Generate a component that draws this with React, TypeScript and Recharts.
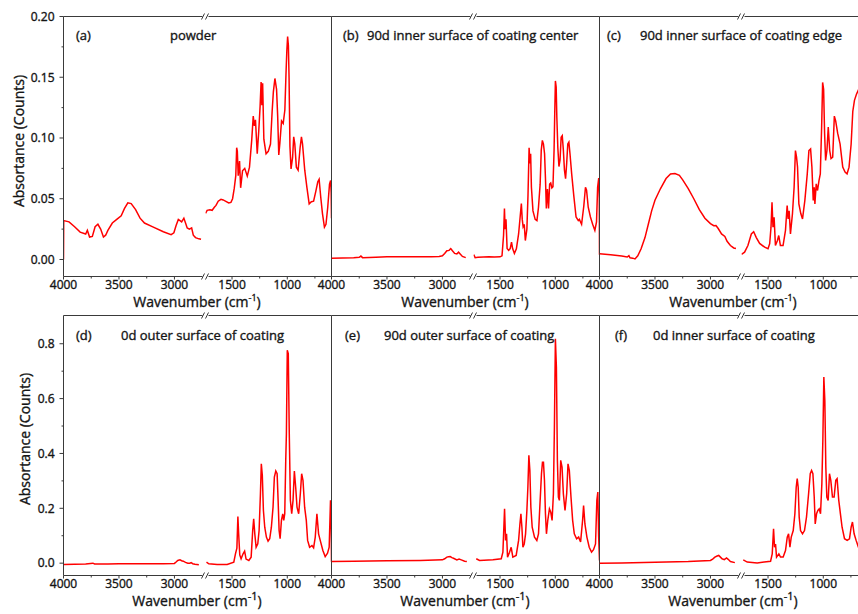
import React from "react";
import { LineChart, Line, XAxis, YAxis, ReferenceLine } from "recharts";

// ---- spectra: [wavenumber (cm-1), absorbance] ----
// "hi" = 4000..2720 side of the axis break, "lo" = 1740..600 side

const powderHi: [number, number][] = [
  [4000, 0], [3998, 0.032], [3950, 0.031], [3900, 0.027], [3850, 0.0225], [3800, 0.021],
  [3785, 0.024], [3765, 0.0185], [3740, 0.019], [3715, 0.027], [3690, 0.029], [3665, 0.025],
  [3640, 0.0185], [3620, 0.02], [3600, 0.024], [3560, 0.03], [3520, 0.033], [3480, 0.036],
  [3450, 0.042], [3420, 0.0466], [3390, 0.046], [3350, 0.041], [3310, 0.034], [3270, 0.03],
  [3200, 0.027], [3100, 0.0228], [3030, 0.0205], [3005, 0.022], [2985, 0.028], [2965, 0.033],
  [2950, 0.032], [2935, 0.031], [2915, 0.034], [2900, 0.03], [2885, 0.026], [2865, 0.025],
  [2845, 0.026], [2830, 0.02], [2810, 0.018], [2780, 0.017], [2760, 0.0167],
];
const powderLo: [number, number][] = [
  [1740, 0.038], [1725, 0.0405], [1700, 0.041], [1680, 0.0405], [1660, 0.043], [1645, 0.0445],
  [1625, 0.048], [1600, 0.0495], [1580, 0.049], [1560, 0.048], [1530, 0.0465], [1510, 0.047],
  [1495, 0.05], [1480, 0.0585], [1466, 0.069], [1458, 0.092], [1452, 0.089], [1444, 0.069],
  [1432, 0.081], [1422, 0.059], [1405, 0.073], [1385, 0.075], [1362, 0.0686], [1342, 0.076],
  [1322, 0.098], [1308, 0.118], [1298, 0.11], [1288, 0.115], [1272, 0.087], [1258, 0.106],
  [1246, 0.126], [1237, 0.146], [1230, 0.127], [1223, 0.145], [1212, 0.099], [1192, 0.087],
  [1172, 0.089], [1152, 0.095], [1137, 0.122], [1126, 0.138], [1112, 0.149], [1097, 0.14],
  [1087, 0.118], [1077, 0.086], [1067, 0.096], [1052, 0.114], [1037, 0.112], [1022, 0.123],
  [1012, 0.152], [1004, 0.172], [997, 0.1835], [990, 0.176], [984, 0.15], [976, 0.093],
  [966, 0.0746], [952, 0.084], [942, 0.101], [932, 0.095], [918, 0.076], [902, 0.0735],
  [884, 0.092], [872, 0.101], [862, 0.095], [842, 0.0735], [822, 0.059], [802, 0.0458],
  [782, 0.0475], [762, 0.048], [742, 0.056], [724, 0.064], [712, 0.066], [697, 0.051],
  [682, 0.038], [664, 0.0266], [650, 0.029], [634, 0.043], [618, 0.062], [608, 0.065],
  [603, 0.055], [600, 0.034],
];

const centerHi: [number, number][] = [
  [4000, 0.001], [3900, 0.0012], [3800, 0.0015], [3750, 0.0018], [3735, 0.0028], [3720, 0.0015],
  [3600, 0.0018], [3500, 0.0022], [3400, 0.0022], [3300, 0.0022], [3200, 0.0022], [3100, 0.0022],
  [3030, 0.0025], [3000, 0.003], [2980, 0.005], [2960, 0.0072], [2940, 0.0075], [2925, 0.009],
  [2910, 0.0072], [2890, 0.005], [2870, 0.0045], [2855, 0.006], [2840, 0.0045], [2820, 0.0025],
  [2790, 0.0015],
];
const centerLo: [number, number][] = [
  [1738, 0.004], [1725, 0.0015], [1700, 0.0018], [1650, 0.002], [1600, 0.0022], [1550, 0.002],
  [1500, 0.0022], [1482, 0.003], [1468, 0.02], [1460, 0.042], [1454, 0.025], [1446, 0.033],
  [1436, 0.009], [1422, 0.0075], [1408, 0.009], [1396, 0.0143], [1386, 0.009], [1370, 0.005],
  [1352, 0.0088], [1332, 0.021], [1317, 0.036], [1307, 0.046], [1299, 0.033], [1291, 0.027],
  [1281, 0.029], [1271, 0.0156], [1257, 0.025], [1247, 0.0527], [1237, 0.092], [1229, 0.079],
  [1223, 0.087], [1216, 0.0595], [1202, 0.04], [1182, 0.033], [1166, 0.032], [1152, 0.043],
  [1137, 0.062], [1127, 0.09], [1117, 0.098], [1107, 0.095], [1097, 0.087], [1089, 0.067],
  [1081, 0.042], [1071, 0.058], [1061, 0.042], [1051, 0.062], [1041, 0.063], [1031, 0.059],
  [1021, 0.06], [1011, 0.09], [1005, 0.12], [999, 0.147], [992, 0.142], [986, 0.117],
  [977, 0.092], [967, 0.0765], [957, 0.082], [947, 0.1007], [937, 0.102], [927, 0.09],
  [917, 0.0735], [907, 0.0665], [897, 0.079], [887, 0.095], [877, 0.0966], [867, 0.087],
  [852, 0.0707], [832, 0.052], [812, 0.035], [792, 0.032], [782, 0.033], [762, 0.029],
  [742, 0.044], [727, 0.0595], [717, 0.057], [702, 0.043], [682, 0.035], [662, 0.029],
  [642, 0.024], [627, 0.031], [617, 0.0595], [607, 0.067], [602, 0.05], [600, 0.004],
];

const edgeHi: [number, number][] = [
  [4000, 0.0047], [3900, 0.0039], [3800, 0.0028], [3750, 0.002], [3735, 0.0032], [3725, 0.0014],
  [3700, 0.0011], [3680, 0.0005], [3655, 0.003], [3625, 0.0088], [3590, 0.018], [3560, 0.029],
  [3530, 0.04], [3500, 0.0488], [3450, 0.0584], [3400, 0.0666], [3360, 0.0703], [3320, 0.0707],
  [3280, 0.0693], [3250, 0.0655], [3200, 0.0583], [3150, 0.05], [3100, 0.041], [3050, 0.034],
  [3000, 0.0295], [2970, 0.0278], [2950, 0.028], [2930, 0.0255], [2900, 0.021], [2870, 0.019],
  [2850, 0.015], [2820, 0.0115], [2790, 0.0095], [2770, 0.009],
];
const edgeLo: [number, number][] = [
  [1740, 0.0042], [1712, 0.006], [1682, 0.0115], [1651, 0.021], [1630, 0.0228], [1606, 0.018],
  [1576, 0.0132], [1530, 0.0101], [1500, 0.0088], [1485, 0.013], [1473, 0.0266], [1464, 0.047],
  [1455, 0.0266], [1445, 0.0348], [1433, 0.0115], [1415, 0.0156], [1403, 0.0197], [1388, 0.0115],
  [1364, 0.0115], [1342, 0.024], [1327, 0.0444], [1318, 0.0334], [1309, 0.04], [1297, 0.0211],
  [1279, 0.0376], [1264, 0.0595], [1252, 0.0897], [1242, 0.0842], [1233, 0.076], [1221, 0.0458],
  [1203, 0.0376], [1188, 0.0334], [1167, 0.0485], [1145, 0.0705], [1130, 0.0897], [1115, 0.091],
  [1103, 0.076], [1091, 0.0485], [1082, 0.0595], [1076, 0.0458], [1064, 0.0622], [1052, 0.0568],
  [1039, 0.065], [1027, 0.0705], [1015, 0.109], [1006, 0.1457], [997, 0.14], [988, 0.1034],
  [979, 0.0815], [967, 0.0897], [955, 0.109], [942, 0.0897], [930, 0.083], [915, 0.0842],
  [900, 0.118], [888, 0.114], [870, 0.104], [848, 0.095], [824, 0.076], [803, 0.0719],
  [785, 0.0705], [767, 0.076], [748, 0.095], [733, 0.122], [718, 0.131], [700, 0.136],
  [680, 0.14], [660, 0.13], [640, 0.11], [620, 0.09], [600, 0.07],
];

const outer0Hi: [number, number][] = [
  [4000, -0.005], [3900, -0.004], [3800, -0.003], [3735, 0], [3720, -0.003], [3600, -0.003],
  [3500, -0.0024], [3300, -0.002], [3100, -0.002], [3000, -0.001], [2985, 0.004], [2970, 0.0097],
  [2950, 0.012], [2935, 0.009], [2920, 0.0073], [2900, 0.003], [2880, 0], [2860, 0],
  [2850, 0.002], [2835, -0.002], [2815, -0.004], [2780, -0.006],
];
const outer0Lo: [number, number][] = [
  [1731, 0.0036], [1710, -0.0024], [1635, -0.005], [1544, -0.005], [1484, 0.0036], [1469, 0.034],
  [1456, 0.055], [1447, 0.17], [1440, 0.107], [1430, 0.03], [1418, 0.016], [1400, 0.034],
  [1386, 0.044], [1373, 0.015], [1348, 0.0097], [1327, 0.022], [1313, 0.119], [1304, 0.162],
  [1294, 0.107], [1282, 0.058], [1267, 0.0705], [1255, 0.119], [1243, 0.253], [1235, 0.362],
  [1226, 0.32], [1216, 0.192], [1204, 0.131], [1189, 0.095], [1174, 0.08], [1159, 0.089],
  [1144, 0.131], [1129, 0.204], [1117, 0.314], [1104, 0.336], [1092, 0.326], [1083, 0.229],
  [1074, 0.119], [1065, 0.089], [1053, 0.156], [1041, 0.18], [1032, 0.156], [1023, 0.18],
  [1014, 0.375], [1008, 0.472], [1000, 0.776], [991, 0.764], [982, 0.472], [972, 0.229],
  [960, 0.18], [948, 0.229], [936, 0.336], [924, 0.277], [912, 0.204], [897, 0.18],
  [882, 0.253], [870, 0.326], [858, 0.302], [843, 0.204], [828, 0.156], [816, 0.083],
  [798, 0.058], [777, 0.064], [762, 0.056], [747, 0.095], [732, 0.18], [717, 0.107],
  [702, 0.083], [678, 0.046], [657, 0.024], [636, 0.036], [621, 0.058], [609, 0.229],
  [603, 0.15], [600, 0.005],
];

const outer90Hi: [number, number][] = [
  [4000, 0.006], [3800, 0.007], [3500, 0.0085], [3200, 0.01], [3000, 0.012], [2980, 0.016],
  [2960, 0.022], [2945, 0.023], [2930, 0.024], [2915, 0.02], [2900, 0.018], [2870, 0.012],
  [2850, 0.015], [2830, 0.012], [2800, 0.007], [2780, 0.006],
];
const outer90Lo: [number, number][] = [
  [1715, 0.016], [1685, 0.01], [1564, 0.012], [1489, 0.016], [1474, 0.04], [1459, 0.198],
  [1450, 0.083], [1441, 0.107], [1432, 0.022], [1414, 0.04], [1399, 0.058], [1384, 0.022],
  [1354, 0.028], [1332, 0.083], [1320, 0.143], [1311, 0.18], [1302, 0.131], [1293, 0.058],
  [1281, 0.07], [1269, 0.107], [1257, 0.192], [1248, 0.277], [1239, 0.393], [1230, 0.338],
  [1221, 0.204], [1209, 0.131], [1188, 0.095], [1167, 0.083], [1152, 0.107], [1137, 0.229],
  [1125, 0.326], [1116, 0.368], [1107, 0.368], [1098, 0.302], [1089, 0.18], [1080, 0.107],
  [1068, 0.156], [1053, 0.198], [1041, 0.186], [1029, 0.156], [1017, 0.253], [1008, 0.496],
  [999, 0.818], [990, 0.715], [981, 0.375], [972, 0.241], [963, 0.229], [951, 0.375],
  [939, 0.35], [927, 0.253], [912, 0.192], [897, 0.253], [885, 0.362], [873, 0.338],
  [858, 0.241], [843, 0.156], [828, 0.107], [807, 0.089], [789, 0.095], [771, 0.077],
  [753, 0.156], [744, 0.21], [732, 0.143], [714, 0.095], [693, 0.058], [672, 0.04],
  [654, 0.049], [636, 0.07], [624, 0.229], [615, 0.259], [608, 0.1], [600, 0.01],
];

const inner0Hi: [number, number][] = [
  [4000, 0], [3800, 0.001], [3500, 0.0036], [3200, 0.006], [3000, 0.0097], [2980, 0.015],
  [2960, 0.022], [2940, 0.026], [2925, 0.028], [2910, 0.022], [2895, 0.016], [2875, 0.013],
  [2855, 0.019], [2840, 0.014], [2820, 0.006], [2780, 0.002],
];
const inner0Lo: [number, number][] = [
  [1724, 0.012], [1688, 0.004], [1598, 0.001], [1477, 0.007], [1462, 0.034], [1450, 0.125],
  [1441, 0.058], [1432, 0.07], [1423, 0.022], [1402, 0.034], [1387, 0.022], [1363, 0.022],
  [1342, 0.046], [1326, 0.095], [1314, 0.107], [1302, 0.058], [1290, 0.095], [1272, 0.119],
  [1257, 0.18], [1245, 0.277], [1236, 0.308], [1227, 0.277], [1218, 0.168], [1206, 0.119],
  [1188, 0.107], [1170, 0.119], [1152, 0.168], [1133, 0.253], [1118, 0.326], [1106, 0.338],
  [1094, 0.326], [1082, 0.241], [1073, 0.143], [1061, 0.18], [1049, 0.192], [1037, 0.198],
  [1025, 0.18], [1013, 0.289], [1004, 0.447], [995, 0.679], [986, 0.593], [977, 0.35],
  [968, 0.241], [956, 0.229], [944, 0.326], [932, 0.302], [917, 0.241], [902, 0.241],
  [887, 0.302], [875, 0.308], [860, 0.229], [845, 0.18], [830, 0.131], [808, 0.089],
  [784, 0.083], [763, 0.089], [748, 0.131], [736, 0.15], [721, 0.107], [703, 0.083],
  [682, 0.058], [660, 0.05], [640, 0.07], [620, 0.15], [600, 0.05],
];

// ---- axes ----
const HI_DOMAIN: [number, number] = [2720, 4000];
const LO_DOMAIN: [number, number] = [600, 1740];
const HI_TICKS = [4000, 3750, 3500, 3250, 3000];
const LO_TICKS = [1500, 1250, 1000, 750];
const X_LABELED = [4000, 3500, 3000, 1500, 1000];

const TOP_Y_DOMAIN: [number, number] = [-0.014, 0.2];
const TOP_Y_TICKS = [0, 0.025, 0.05, 0.075, 0.1, 0.125, 0.15, 0.175, 0.2];
const TOP_Y_LABELED = [0, 0.05, 0.1, 0.15, 0.2];
const BOT_Y_DOMAIN: [number, number] = [-0.045, 0.903];
const BOT_Y_TICKS = [0, 0.1, 0.2, 0.3, 0.4, 0.5, 0.6, 0.7, 0.8];
const BOT_Y_LABELED = [0, 0.2, 0.4, 0.6, 0.8];

const panels = [
  { tag: "(a)", title: "powder", hi: powderHi, lo: powderLo, row: 0, col: 0, tagX: 76, titleX: 170 },
  { tag: "(b)", title: "90d  inner surface of coating center", hi: centerHi, lo: centerLo, row: 0, col: 1, tagX: 343, titleX: 367 },
  { tag: "(c)", title: "90d  inner surface of coating edge", hi: edgeHi, lo: edgeLo, row: 0, col: 2, tagX: 607, titleX: 640 },
  { tag: "(d)", title: "0d  outer surface of coating", hi: outer0Hi, lo: outer0Lo, row: 1, col: 0, tagX: 76, titleX: 121 },
  { tag: "(e)", title: "90d outer surface of coating", hi: outer90Hi, lo: outer90Lo, row: 1, col: 1, tagX: 345, titleX: 384 },
  { tag: "(f)", title: "0d  inner surface of coating", hi: inner0Hi, lo: inner0Lo, row: 1, col: 2, tagX: 615, titleX: 653 },
];

// ---- layout ----
const FONT = "'Open Sans', 'Noto Sans', sans-serif";
const INK = "#151515";
const FRAME = "#3a3a3a";
const RED = "#ff0000";
const COL_X = [63, 331, 599];
const ROW_Y = [16, 315];
const HI_W = 142;
const LO_W = 126;
const PLOT_H = 260;
const Y_W = 60;
const X_H = 26;
const PAD = 20; // spare room round each plot so edge labels are not cut
// regular face with a hairline outline, a touch heavier than plain regular
const textStyle = { fill: INK, stroke: INK, strokeWidth: 0.35, fontFamily: FONT };

const xTick = (p: any) => {
  const { x, y, payload } = p;
  const v = payload.value;
  const major = X_LABELED.includes(v);
  const ay = y - 4;
  return (
    <g>
      <line x1={x} x2={x} y1={ay} y2={ay + (major ? 3 : 2)} stroke={FRAME} />
      {major && (
        <text x={x} y={y} dy="0.71em" textAnchor="middle" fontSize={12} {...textStyle}>
          {v}
        </text>
      )}
    </g>
  );
};

const yTick = (labeled: number[], digits: number) => (p: any) => {
  const { x, y, payload } = p;
  const v = payload.value;
  const major = labeled.some((m) => Math.abs(m - v) < 1e-9);
  const ax = x + 9;
  return (
    <g>
      <line x1={ax} x2={ax - (major ? 4 : 2)} y1={y} y2={y} stroke={FRAME} />
      {major && (
        <text x={x} y={y} dy="0.355em" textAnchor="end" fontSize={12} {...textStyle}>
          {v.toFixed(digits)}
        </text>
      )}
    </g>
  );
};

function Segment({ pairs, side, row, col }: { pairs: [number, number][]; side: "hi" | "lo"; row: number; col: number }) {
  const hi = side === "hi";
  const showY = hi && col === 0;
  const yW = showY ? Y_W : 0;
  const segW = hi ? HI_W : LO_W;
  const yDom = row === 0 ? TOP_Y_DOMAIN : BOT_Y_DOMAIN;
  const data = pairs.map(([wn, a]) => ({ wn, a }));
  const left = COL_X[col] + (hi ? 0 : HI_W) - yW - PAD;
  const top = ROW_Y[row] - PAD;
  return (
    <div style={{ position: "absolute", left, top }}>
      <LineChart
        width={yW + segW + 2 * PAD + 1}
        height={PLOT_H + X_H + PAD + 1}
        data={data}
        margin={{ top: PAD + 0.5, right: PAD + 0.5, bottom: 0.5, left: PAD + 0.5 }}
      >
        <XAxis
          type="number"
          dataKey="wn"
          domain={hi ? HI_DOMAIN : LO_DOMAIN}
          reversed
          allowDataOverflow
          ticks={hi ? HI_TICKS : LO_TICKS}
          interval={0}
          height={X_H}
          tickSize={3}
          tickMargin={1}
          tickLine={false}
          axisLine={{ stroke: FRAME }}
          tick={xTick}
        />
        {showY ? (
          <YAxis
            type="number"
            domain={yDom}
            allowDataOverflow
            width={Y_W}
            ticks={row === 0 ? TOP_Y_TICKS : BOT_Y_TICKS}
            interval={0}
            tickSize={4}
            tickMargin={5}
            tickLine={false}
            axisLine={{ stroke: FRAME }}
            tick={row === 0 ? yTick(TOP_Y_LABELED, 2) : yTick(BOT_Y_LABELED, 1)}
          />
        ) : (
          <YAxis type="number" domain={yDom} allowDataOverflow hide />
        )}
        <ReferenceLine y={yDom[1]} stroke={FRAME} />
        {hi && col > 0 && <ReferenceLine x={4000} stroke={FRAME} />}
        {!hi && col === 2 && <ReferenceLine x={600} stroke={FRAME} />}
        <Line
          type="linear"
          dataKey="a"
          stroke={RED}
          strokeWidth={1.5}
          dot={false}
          isAnimationActive={false}
        />
      </LineChart>
    </div>
  );
}

function BreakMark({ x, y }: { x: number; y: number }) {
  return (
    <g>
      <rect x={x - 3} y={y - 2} width={6} height={4} fill="#fff" />
      <line x1={x - 4} y1={y + 3} x2={x - 1} y2={y - 3} stroke={FRAME} />
      <line x1={x} y1={y + 3} x2={x + 3} y2={y - 3} stroke={FRAME} />
    </g>
  );
}

export default function App() {
  return (
    <div style={{ position: "absolute", left: 0, top: 0, width: 858, height: 614, overflow: "hidden", background: "#fff" }}>
      {panels.map((p) => (
        <React.Fragment key={p.tag}>
          <Segment pairs={p.hi} side="hi" row={p.row} col={p.col} />
          <Segment pairs={p.lo} side="lo" row={p.row} col={p.col} />
        </React.Fragment>
      ))}
      <svg width={858} height={614} style={{ position: "absolute", left: 0, top: 0, pointerEvents: "none" }}>
        {panels.map((p) => {
          const bx = COL_X[p.col] + HI_W + 0.5;
          const ty = ROW_Y[p.row] + 0.5;
          const baseY = p.row === 0 ? 39.5 : 340;
          const cx = COL_X[p.col] + 134;
          const xtY = p.row === 0 ? 307 : 606;
          return (
            <g key={p.tag}>
              <BreakMark x={bx} y={ty} />
              <BreakMark x={bx} y={ty + PLOT_H} />
              <text x={p.tagX} y={baseY} fontSize={13} {...textStyle}>{p.tag}</text>
              <text x={p.titleX} y={baseY} fontSize={13} {...textStyle}>{p.title}</text>
              <text x={cx} y={xtY} fontSize={14} textAnchor="middle" {...textStyle}>
                Wavenumber (cm
                <tspan fontSize={p.row === 0 ? 9 : 11} dy={-6}>-1</tspan>
                <tspan dy={6}>)</tspan>
              </text>
            </g>
          );
        })}
        <text transform="translate(24,141) rotate(-90)" fontSize={14} textAnchor="middle" {...textStyle}>
          Absortance (Counts)
        </text>
        <text transform="translate(30,439) rotate(-90)" fontSize={14} textAnchor="middle" {...textStyle}>
          Absortance (Counts)
        </text>
      </svg>
    </div>
  );
}
